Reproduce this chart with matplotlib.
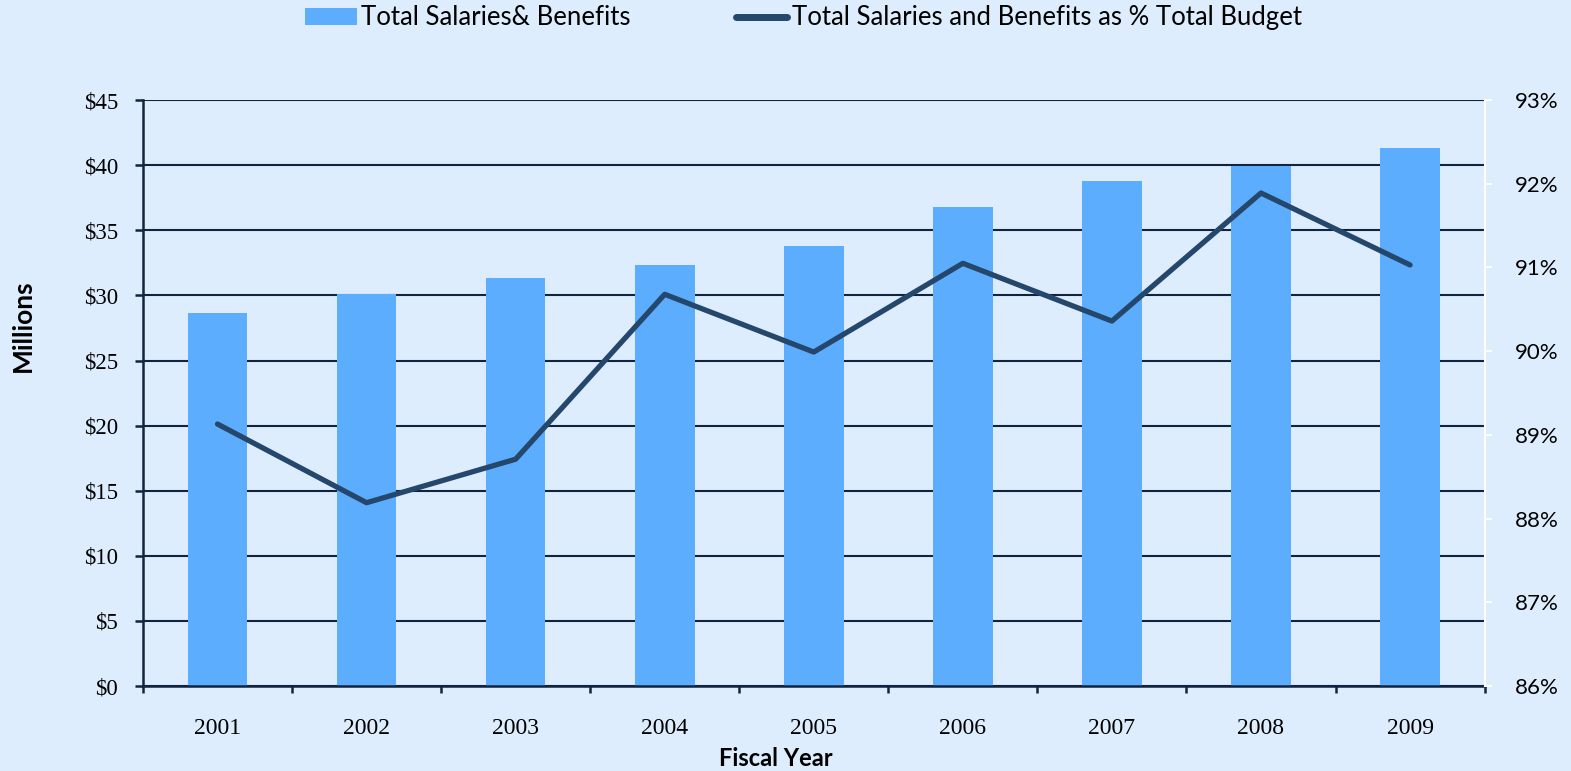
import matplotlib
matplotlib.use("Agg")
import matplotlib.pyplot as plt
from matplotlib.ticker import FixedLocator, FuncFormatter
from matplotlib.patches import Patch
from matplotlib.lines import Line2D

years = ["2001", "2002", "2003", "2004", "2005", "2006", "2007", "2008", "2009"]
salaries_millions = [28.65, 30.1, 31.3, 32.3, 33.8, 36.8, 38.8, 39.9, 41.3]
pct_of_budget = [89.13, 88.19, 88.71, 90.68, 89.99, 91.05, 90.36, 91.89, 91.03]
left_ticks = [0, 5, 10, 15, 20, 25, 30, 35, 40, 45]
right_ticks = [86, 87, 88, 89, 90, 91, 92, 93]

BG = "#DDEDFD"
BAR = "#5DADFF"
LINE = "#24476B"
GRID = "#10243F"

fig = plt.figure(figsize=(15.71, 7.71), dpi=100, facecolor=BG)
ax = fig.add_axes([0.091, 0.1102, 0.854, 0.760])
ax.set_facecolor(BG)

x = list(range(len(years)))
ax.bar(x, salaries_millions, width=0.4, color=BAR, zorder=2)
ax.set_xlim(-0.5, len(years) - 0.5)
ax.set_ylim(0, 45)
ax.yaxis.set_major_locator(FixedLocator(left_ticks))
ax.yaxis.set_major_formatter(FuncFormatter(lambda v, p: f"${v:.0f}"))
ax.grid(axis="y", color=GRID, linewidth=1.5, zorder=1)
ax.set_axisbelow(True)

# Category labels centred under bars, ticks on category boundaries
ax.set_xticks([i - 0.5 for i in range(len(years) + 1)])
ax.set_xticklabels([])
ax.set_xticks(x, minor=True)
ax.set_xticklabels(years, minor=True, family="Liberation Serif", fontsize=17)
ax.tick_params(axis="x", which="minor", length=0, pad=23)
ax.tick_params(axis="x", which="major", length=5, width=1.8, color=GRID, direction="out")
ax.tick_params(axis="y", length=6, width=1.8, color=GRID, pad=12)
for lbl in ax.get_yticklabels():
    lbl.set_family("Liberation Serif")
    lbl.set_fontsize(16.5)

for side in ["top", "right"]:
    ax.spines[side].set_visible(False)
ax.spines["left"].set_color(GRID)
ax.spines["left"].set_linewidth(1.8)
ax.spines["bottom"].set_color(GRID)
ax.spines["bottom"].set_linewidth(1.8)

ax2 = ax.twinx()
ax2.plot(x, pct_of_budget, color=LINE, linewidth=3.8, solid_capstyle="round",
         solid_joinstyle="round", zorder=3)
ax2.set_ylim(86, 93)
ax2.yaxis.set_major_locator(FixedLocator(right_ticks))
ax2.yaxis.set_major_formatter(FuncFormatter(lambda v, p: f"{v:.0f}%"))
ax2.tick_params(axis="y", length=5, width=1.5, color="white", pad=17)
for lbl in ax2.get_yticklabels():
    lbl.set_family("Lato")
    lbl.set_fontsize(16)
for side in ["top", "left", "bottom"]:
    ax2.spines[side].set_visible(False)
ax2.spines["right"].set_color("white")
ax2.spines["right"].set_linewidth(1.5)

fig.text(0.0146, 0.577, "Millions", rotation=90, ha="center", va="center",
         family="Lato", fontweight="bold", fontsize=19)
fig.text(0.494, 0.0156, "Fiscal Year", ha="center", va="center",
         family="Lato", fontweight="bold", fontsize=17)

handles = [Patch(facecolor=BAR, edgecolor="none"),
           Line2D([0], [0], color=LINE, linewidth=5, solid_capstyle="round")]
labels = ["Total Salaries& Benefits", "Total Salaries and Benefits as % Total Budget"]
fig.legend(handles, labels, loc="center", bbox_to_anchor=(0.5115, 0.9767), ncol=2,
           frameon=False, prop={"family": "Lato", "size": 18.5},
           handlelength=2.0, handletextpad=0.18, columnspacing=4.1,
           handleheight=0.65, borderpad=0, borderaxespad=0)

fig.savefig("out.png", dpi=100, facecolor=BG)
